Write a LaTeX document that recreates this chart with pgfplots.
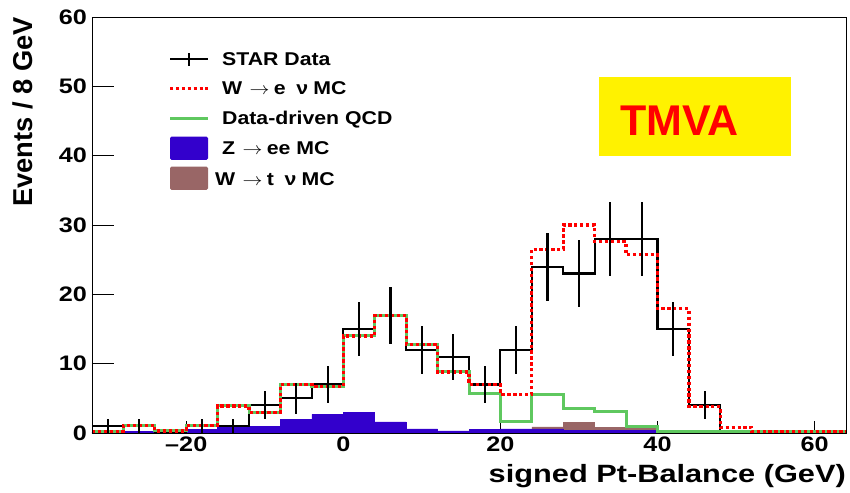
\documentclass[border=0pt]{standalone}
\usepackage{pgfplots}
\pgfplotsset{compat=1.18}
\usepackage{fontspec}
\setmainfont{Liberation Sans}
\usepackage{graphicx}
\definecolor{zblue}{RGB}{51,0,204}
\definecolor{taubrown}{RGB}{153,102,102}
\definecolor{qcdgreen}{RGB}{95,200,95}
\newcommand\hs[2][1.2]{\scalebox{#1}[1]{#2}}
\pgfplotsset{
  myframe/.style={at={(0pt,0pt)}, anchor=south west, scale only axis,
    width=754pt, height=416pt,
    xmin=-32, xmax=64, ymin=0, ymax=60,
    tick pos=left, tick align=inside,
    axis line style={line width=0.9pt},
    every tick/.style={black, line width=0.9pt}},
}
\begin{document}
\begin{tikzpicture}
\path[use as bounding box] (-92pt,-59pt) rectangle (758pt,433pt);
\begin{axis}[myframe,
  xtick={-20,0,20,40,60},
  xticklabels={\hs{–20},\hs{0},\hs{20},\hs{40},\hs{60}},
  ytick={0,10,20,30,40,50,60},
  yticklabels={\hs{0},\hs{10},\hs{20},\hs{30},\hs{40},\hs{50},\hs{60}},
  major tick length=12pt,
  tick label style={font=\fontsize{21}{24}\selectfont\bfseries, inner sep=0pt},
  yticklabel style={xshift=-5pt},
  xticklabel style={yshift=-4pt},
  xlabel={\hs[1.23]{signed Pt-Balance (GeV)}},
  ylabel={Events / 8 GeV},
  xlabel style={at={(axis description cs:1,-0.1185)}, anchor=base east, inner sep=0pt, font=\fontsize{25}{28}\selectfont\bfseries},
  ylabel style={at={(axis description cs:-0.0915,1)}, anchor=east, inner sep=0pt, font=\fontsize{27.3}{30}\selectfont\bfseries},
]
% TMVA box
\fill[yellow] (axis cs:32.6,40.0) rectangle (axis cs:57.0,51.4);
\node[anchor=base, text=red, font=\fontsize{43}{50}\selectfont\bfseries, inner sep=0pt] at (axis cs:42.8,42.86) {TMVA};

% W -> tau nu MC
\addplot[const plot, draw=taubrown, fill=taubrown, line width=0.5pt, forget plot] table {
x y
-32 0.15
-28 0.15
-24 0.15
-20 0.15
-16 0.15
-12 0.15
-8 0.15
-4 0.15
0 0.15
4 0.15
8 0.15
12 0.15
16 0.15
20 0.3
24 0.9
28 1.5
32 0.85
36 0.7
40 0
44 0
48 0
52 0
56 0
60 0
64 0
} \closedcycle;

% Z -> ee MC
\addplot[const plot, draw=zblue, fill=zblue, line width=0.6pt, forget plot] table {
x y
-32 0.05
-28 0.2
-24 0.2
-20 0.5
-16 1.0
-12 1.0
-8 2.0
-4 2.7
0 3.0
4 1.6
8 0.6
12 0.3
16 0.5
20 0.6
24 0.6
28 0.4
32 0.4
36 0.4
40 0
44 0
48 0
52 0
56 0
60 0
64 0
} \closedcycle;

% STAR data histogram outline
\addplot[const plot, black, line width=2.1pt, forget plot] table {
x y
-32 1
-28 1
-24 0
-20 1
-16 1
-12 4
-8 5
-4 7
0 15
4 17
8 12
12 11
16 7
20 12
24 24
28 23
32 28
36 28
40 15
44 4
48 0
52 0
56 0
60 0
64 0
};

% Data-driven QCD
\addplot[const plot, qcdgreen, line width=3pt, forget plot] table {
x y
-32 0.2
-28 1.1
-24 0.3
-20 1.1
-16 3.9
-12 3.0
-8 7.0
-4 6.7
0 14.0
4 16.9
8 12.8
12 8.8
16 5.7
20 1.6
24 5.5
28 3.6
32 3.1
36 0.9
40 0.25
44 0.25
48 0.25
52 0.15
56 0.15
60 0.15
64 0.15
};

% W -> e nu MC
\addplot[const plot, red, line width=3.2pt, dash pattern=on 3.3pt off 2.6pt, forget plot] table {
x y
-32 0.2
-28 1.1
-24 0.3
-20 1.1
-16 3.9
-12 3.0
-8 7.0
-4 6.7
0 14.0
4 16.9
8 12.8
12 8.8
16 7.0
20 5.6
24 26.5
28 30.0
32 27.6
36 25.7
40 17.9
44 3.8
48 0.8
52 0.15
56 0.15
60 0.15
64 0.15
};

% STAR data error bars
\addplot[draw=none, mark=none, forget plot,
  error bars/.cd, y dir=both, y explicit, error mark=none,
  error bar style={line width=2.1pt, black}] table[x=x, y=y, y error=e] {
x y e
-30 1 1
-26 1 1
-18 1 1
-14 1 1
-10 4 2
-6 5 2.236
-2 7 2.646
2 15 3.873
6 17 4.123
10 12 3.464
14 11 3.317
18 7 2.646
22 12 3.464
26 24 4.899
30 23 4.796
34 28 5.292
38 28 5.292
42 15 3.873
46 4 2
};
\end{axis}
% longer y ticks
\begin{axis}[myframe,
  xtick=\empty,
  ytick={0,10,20,30,40,50,60}, yticklabels={},
  major tick length=22pt,
]
\end{axis}

% legend
\begin{scope}[font=\fontsize{18.5}{21}\selectfont\bfseries]
\draw[black, line width=2pt] (78pt,373.7pt) -- (116pt,373.7pt);
\draw[black, line width=2pt] (97pt,367.3pt) -- (97pt,380pt);
\node[anchor=base west, inner sep=0pt] at (130pt,367.3pt) {\hs[1.15]{STAR Data}};
\draw[red, line width=3.2pt, dash pattern=on 3.3pt off 2.6pt] (78pt,344.7pt) -- (116pt,344.7pt);
\node[anchor=base west, inner sep=0pt] at (130pt,338pt) {\hs[1.15]{W\hspace{0.35em}$\rightarrow$\hspace{0.2em}e\hspace{0.5em}ν\hspace{0.25em}MC}};
\draw[qcdgreen, line width=3pt] (78pt,314.7pt) -- (116pt,314.7pt);
\node[anchor=base west, inner sep=0pt] at (130pt,308pt) {\hs[1.15]{Data-driven QCD}};
\fill[zblue, rounded corners=1.5pt] (78pt,273pt) rectangle (116pt,296.3pt);
\node[anchor=base west, inner sep=0pt] at (130pt,278pt) {\hs[1.15]{Z\hspace{0.35em}$\rightarrow$\hspace{0.2em}ee MC}};
\fill[taubrown, rounded corners=1.5pt] (78pt,243pt) rectangle (116pt,266.3pt);
\node[anchor=base west, inner sep=0pt] at (123pt,247.5pt) {\hs[1.15]{W\hspace{0.35em}$\rightarrow$\hspace{0.2em}t\hspace{0.5em}ν\hspace{0.25em}MC}};
\end{scope}
\end{tikzpicture}
\end{document}
